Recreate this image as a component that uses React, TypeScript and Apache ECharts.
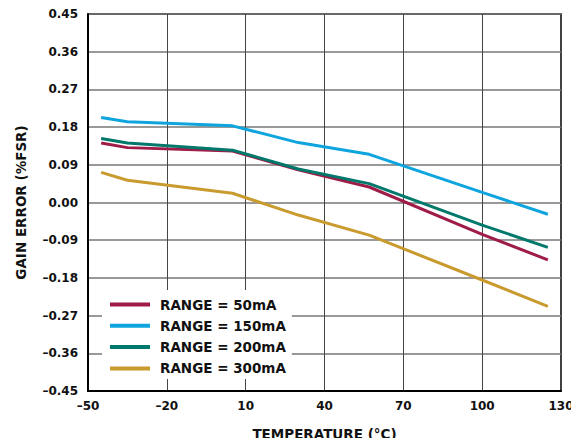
import React, { useEffect, useRef } from "react";
import * as echarts from "echarts";

const temps = [-45, -35, 5, 30, 57, 100, 125];
const range50 = [0.142, 0.131, 0.123, 0.078, 0.037, -0.076, -0.137];
const range150 = [0.203, 0.193, 0.183, 0.143, 0.115, 0.024, -0.028];
const range200 = [0.153, 0.142, 0.125, 0.08, 0.045, -0.054, -0.107];
const range300 = [0.072, 0.053, 0.022, -0.03, -0.078, -0.185, -0.248];
const seriesNames = ["RANGE = 50mA", "RANGE = 150mA", "RANGE = 200mA", "RANGE = 300mA"];
const seriesColors = ["#a01c48", "#0ea5de", "#00786b", "#c99a2e"];
const xTicks = [-50, -20, 10, 40, 70, 100, 130];
const yTicks = [-0.45, -0.36, -0.27, -0.18, -0.09, 0, 0.09, 0.18, 0.27, 0.36, 0.45];

const FONT = "DejaVu Sans";

export default function App() {
  const ref = useRef<HTMLDivElement>(null);
  useEffect(() => {
    if (!ref.current) return;
    const chart = echarts.init(ref.current, null, { renderer: "svg" });
    const all = [range50, range150, range200, range300];
    chart.setOption({
      animation: false,
      backgroundColor: "#fff",
      grid: {
        left: 88,
        right: 18,
        top: 14,
        bottom: 54,
        show: true,
        borderColor: "#000",
        borderWidth: 1.5,
      },
      legend: {
        orient: "vertical",
        left: 102,
        top: 290,
        backgroundColor: "#fff",
        padding: [7, 6, 3, 8],
        itemWidth: 40,
        itemHeight: 4,
        itemGap: 6.3,
        icon: "rect",
        z: 10,
        textStyle: {
          fontFamily: FONT,
          fontWeight: "bold",
          fontSize: 13.5,
          lineHeight: 15,
          color: "#111",
          padding: [0, 0, 0, 5],
        },
        data: seriesNames,
      },
      xAxis: {
        type: "value",
        min: xTicks[0],
        max: xTicks[xTicks.length - 1],
        interval: 30,
        name: "TEMPERATURE (°C)",
        nameLocation: "middle",
        nameGap: 36,
        nameTextStyle: { fontFamily: FONT, fontWeight: "bold", fontSize: 13.5, color: "#111" },
        axisLine: { show: true, onZero: false, lineStyle: { color: "#000", width: 2 } },
        axisTick: { show: false },
        axisLabel: {
          fontFamily: FONT,
          fontWeight: "bold",
          fontSize: 12,
          color: "#111",
          margin: 9,
          formatter: (v: number) => String(v).replace("-", "\u2013"),
        },
        splitLine: { show: true, lineStyle: { color: "#444", width: 1 } },
      },
      yAxis: {
        type: "value",
        min: yTicks[0],
        max: yTicks[yTicks.length - 1],
        interval: 0.09,
        name: "GAIN ERROR (%FSR)",
        nameLocation: "middle",
        nameGap: 60,
        nameRotate: 90,
        nameTextStyle: { fontFamily: FONT, fontWeight: "bold", fontSize: 13.5, color: "#111" },
        axisLine: { show: true, onZero: false, lineStyle: { color: "#000", width: 2 } },
        axisTick: { show: false },
        axisLabel: {
          fontFamily: FONT,
          fontWeight: "bold",
          fontSize: 12,
          color: "#111",
          margin: 10,
          formatter: (v: number) => v.toFixed(2).replace("-", "\u2013"),
        },
        splitLine: { show: true, lineStyle: { color: "#777", width: 1.5 } },
      },
      series: seriesNames.map((name, i) => ({
        name,
        type: "line",
        data: temps.map((t, j) => [t, all[i][j]]),
        showSymbol: false,
        symbol: "none",
        lineStyle: { color: seriesColors[i], width: 3 },
        itemStyle: { color: seriesColors[i] },
        z: 3,
      })),
    });
    return () => chart.dispose();
  }, []);
  return <div ref={ref} style={{ width: 579, height: 446, margin: -8 }} />;
}
